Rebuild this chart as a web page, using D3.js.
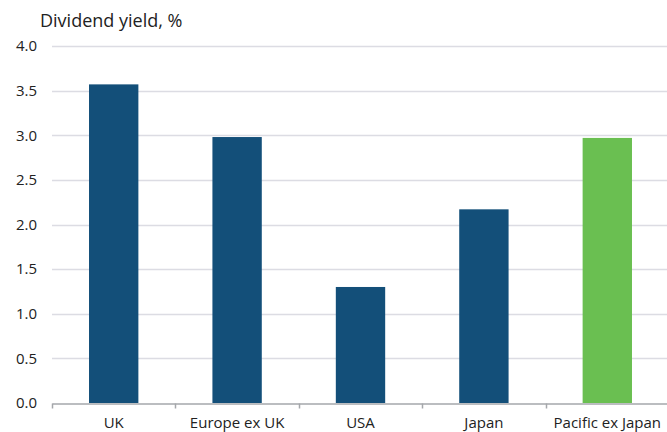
<!DOCTYPE html>
<html lang="en">
<head>
    <meta charset="UTF-8">
    <title>Dividend yield by region</title>
    <script src="https://d3js.org/d3.v7.min.js"></script>
    <style>
        body { margin: 0; background: #fff; font-family: "Open Sans", sans-serif; }
    </style>
</head>
<body>
    <div id="chart"></div>
    <script>
        // Data
        const regions = ["UK", "Europe ex UK", "USA", "Japan", "Pacific ex Japan"];
        const yields = [3.57, 2.98, 1.30, 2.17, 2.97];
        const barColours = ["#134f79", "#134f79", "#134f79", "#134f79", "#6abf51"];
        const yTicks = [0, 0.5, 1, 1.5, 2, 2.5, 3, 3.5, 4];

        const width = 667, height = 432;
        const margin = { top: 46, right: -2, bottom: 29, left: 52 };

        const svg = d3.select("#chart")
            .append("svg")
            .attr("width", width)
            .attr("height", height);

        const x = d3.scaleBand()
            .domain(regions)
            .range([margin.left, width - margin.right])
            .padding(0);

        const y = d3.scaleLinear()
            .domain([0, 4])
            .range([height - margin.bottom, margin.top]);

        // Gridlines
        svg.append("g")
            .selectAll("line")
            .data(yTicks.filter(d => d > 0))
            .join("line")
            .attr("x1", margin.left)
            .attr("x2", width)
            .attr("y1", d => Math.round(y(d)) + 0.5)
            .attr("y2", d => Math.round(y(d)) + 0.5)
            .attr("stroke", "#dcdce3")
            .attr("stroke-width", 1.5);

        // Y tick labels
        svg.append("g")
            .selectAll("text")
            .data(yTicks)
            .join("text")
            .attr("x", 37)
            .attr("y", d => y(d))
            .attr("dy", "0.35em")
            .attr("text-anchor", "end")
            .attr("font-size", 15)
            .attr("fill", "#222")
            .text(d => d.toFixed(1));

        // Bars
        const barW = x.bandwidth() * 0.4;
        svg.append("g")
            .selectAll("rect")
            .data(regions)
            .join("rect")
            .attr("x", d => x(d) + (x.bandwidth() - barW) / 2)
            .attr("y", (d, i) => y(yields[i]))
            .attr("width", barW)
            .attr("height", (d, i) => y(0) - y(yields[i]))
            .attr("fill", (d, i) => barColours[i]);

        // X axis
        const xAxis = d3.axisBottom(x)
            .tickSize(0)
            .tickPadding(14);
        const gx = svg.append("g")
            .attr("transform", `translate(0,${Math.round(y(0)) + 0.5})`)
            .call(xAxis);
        gx.select(".domain").attr("stroke", "#a4a7ab").attr("stroke-width", 1.5);
        gx.selectAll(".tick text")
            .attr("font-family", "Open Sans, sans-serif")
            .attr("font-size", 15)
            .attr("fill", "#222");

        // Category separators (ticks at band edges)
        gx.append("g")
            .selectAll("line")
            .data(regions)
            .join("line")
            .attr("x1", d => Math.round(x(d)) + 0.5)
            .attr("x2", d => Math.round(x(d)) + 0.5)
            .attr("y1", 0)
            .attr("y2", 5)
            .attr("stroke", "#a4a7ab")
            .attr("stroke-width", 1.5);

        // Axis title
        svg.append("text")
            .attr("x", 40)
            .attr("y", 27)
            .attr("font-size", 18)
            .attr("fill", "#222")
            .text("Dividend yield, %");
    </script>
</body>
</html>
